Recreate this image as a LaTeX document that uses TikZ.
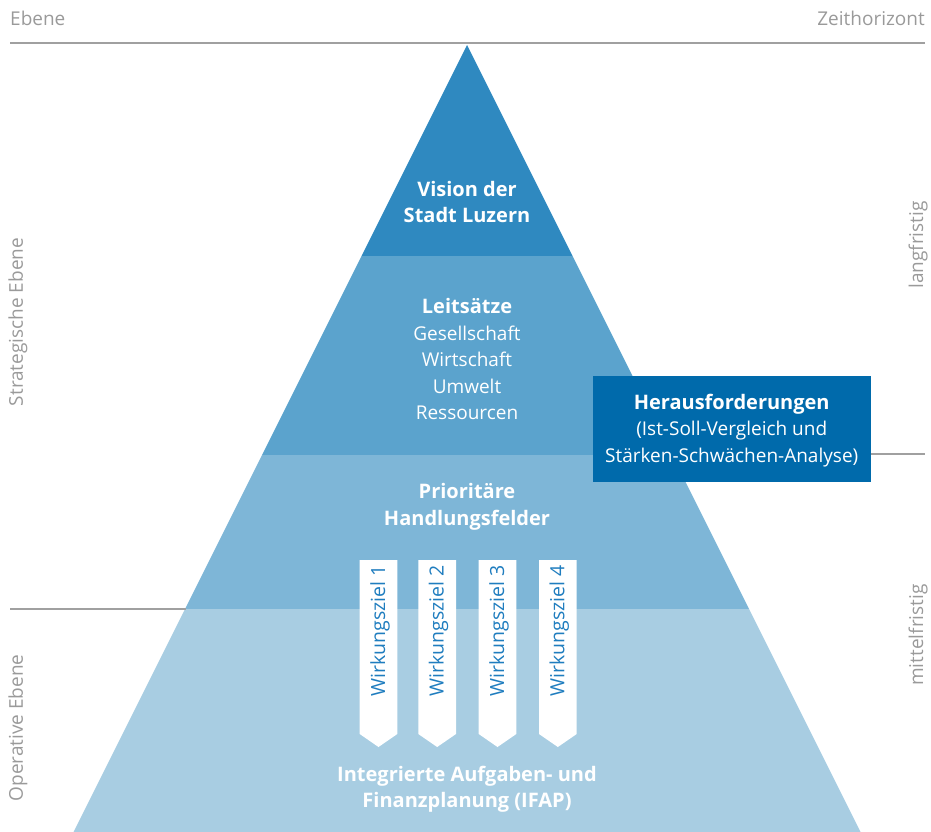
\documentclass[tikz,border=0pt]{standalone}
\usepackage{fontspec}
\setmainfont{Open Sans}
\definecolor{bandA}{HTML}{2F89C0}
\definecolor{bandB}{HTML}{5BA3CD}
\definecolor{bandC}{HTML}{7EB6D7}
\definecolor{bandD}{HTML}{A8CDE2}
\definecolor{boxblue}{HTML}{006AAB}
\definecolor{txtblue}{HTML}{1F7DBF}
\definecolor{greytxt}{HTML}{9A9A9A}
\definecolor{greyline}{HTML}{A0A0A0}
\newcommand{\bt}[1]{{\fontsize{20}{26.5}\selectfont\bfseries #1}}
\tikzset{
  lbl/.style={font=\fontsize{19}{26.5}\selectfont, text=white, align=center, inner sep=0pt},
  side/.style={font=\fontsize{19}{23}\selectfont, text=greytxt, inner sep=0pt},
  sep/.style={draw=greyline, line width=2.4pt},
  wz/.style={font=\fontsize{19.5}{23}\selectfont, text=txtblue, inner sep=0pt, rotate=90},
  arrowbox/.style={fill=white, draw=none}
}
\begin{document}
\begin{tikzpicture}[x=1pt,y=-1pt]
\useasboundingbox (0,0) rectangle (931,832);
% pyramid bands
\fill[bandA] (467,45) -- (572.5,256) -- (361.5,256) -- cycle;
\fill[bandB] (361.5,256) -- (572.5,256) -- (672,455) -- (262,455) -- cycle;
\fill[bandC] (262,455) -- (672,455) -- (749,609) -- (185,609) -- cycle;
\fill[bandD] (185,609) -- (749,609) -- (860.5,832) -- (73.5,832) -- cycle;
% separator lines
\coordinate (tl) at (10,43);
\coordinate (tr) at (925,43);
\draw[sep] (tl) -- (tr);
\coordinate (ml) at (10,609);
\coordinate (mr) at (186,609);
\draw[sep] (ml) -- (mr);
% box
\node[fill=boxblue, minimum width=278pt, minimum height=105.5pt, inner sep=0pt] (hb) at (731.7,428.8) {};
\coordinate (rr) at (925,454);
\draw[sep] (hb.east |- rr) -- (rr);
\node[lbl] (hbt) at (731.7,430.5) {\bt{Herausforderungen}\\(Ist-Soll-Vergleich und\\Stärken-Schwächen-Analyse)};
% pyramid texts
\node[lbl] (vis) at (467,202) {\bt{Vision der}\\\bt{Stadt Luzern}};
\node[lbl] (leit) at (467,359) {\bt{Leitsätze}\\Gesellschaft\\Wirtschaft\\Umwelt\\Ressourcen};
\node[lbl] (prio) at (467,507) {\bt{Prioritäre}\\\bt{Handlungsfelder}};
\node[lbl] (ifap) at (467,789) {\bt{Integrierte Aufgaben- und}\\\bt{Finanzplanung (IFAP)}};
% Wirkungsziel arrows
\foreach \xa/\xb/\n in {359.7/397.3/1, 418.3/456/2, 478.7/516.3/3, 539/576.7/4}{
  \fill[arrowbox] (\xa,560) -- (\xb,560) -- (\xb,734) -- ({(\xa+\xb)/2},747) -- (\xa,734) -- cycle;
  \node[wz] (wz\n) at ({(\xa+\xb)/2+1.5},631) {Wirkungsziel \n};
}
% side labels
\node[side, anchor=west] (ebene) at (10,18) {Ebene};
\node[side, anchor=east] (zeit) at (925,18) {Zeithorizont};
\node[side, rotate=90] (strat) at (18,322) {Strategische Ebene};
\node[side, rotate=90] (oper) at (18,728) {Operative Ebene};
\node[side, rotate=90] (lang) at (918,245) {langfristig};
\node[side, rotate=90] (mittel) at (918,635) {mittelfristig};
\end{tikzpicture}
\end{document}
